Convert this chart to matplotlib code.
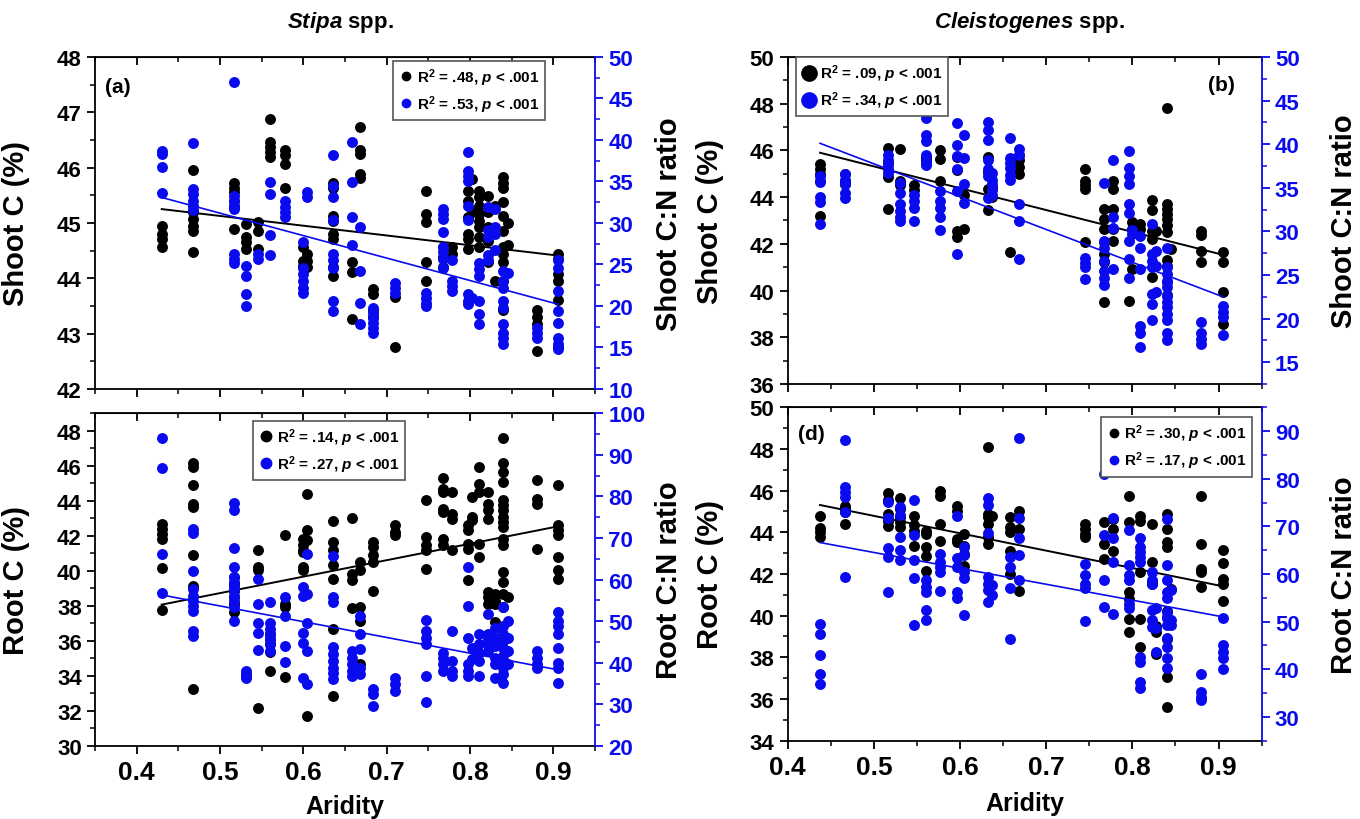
import matplotlib
matplotlib.use('Agg')
import matplotlib.pyplot as plt
from matplotlib.lines import Line2D
from matplotlib.ticker import MultipleLocator

plt.rcParams['font.family'] = ['Liberation Sans', 'DejaVu Sans']
plt.rcParams['font.weight'] = 'bold'
plt.rcParams['axes.labelweight'] = 'bold'
plt.rcParams['mathtext.fontset'] = 'custom'
plt.rcParams['mathtext.it'] = 'Liberation Sans:italic:bold'
plt.rcParams['mathtext.rm'] = 'Liberation Sans:bold'

BLUE = '#0a0aee'

# ---------------- Stipa spp. ----------------
stipa_sites = [0.43, 0.467, 0.517, 0.531, 0.546, 0.56, 0.578, 0.60, 0.604, 0.635,
               0.658, 0.668, 0.684, 0.71, 0.747, 0.768, 0.778, 0.797, 0.802, 0.811,
               0.822, 0.83, 0.84, 0.845, 0.88, 0.906]

stipa_shoot_c = [
    [44.95, 44.8, 44.71, 44.57],
    [45.95, 45.19, 45.07, 44.95, 44.86, 44.47],
    [45.73, 45.64, 45.55, 45.4, 45.28, 44.89],
    [44.98, 44.74, 44.65, 44.53],
    [45.01, 44.86, 44.53],
    [46.88, 46.46, 46.37, 46.28, 46.19],
    [46.31, 46.22, 46.07, 45.64],
    [44.56, 44.32, 44.23],
    [44.44, 44.32, 44.2],
    [45.73, 45.64, 45.13, 45.04, 44.8, 44.71, 44.2, 44.05],
    [44.29, 44.11, 43.27],
    [46.73, 46.31, 46.25, 45.88, 45.82],
    [43.81, 43.72, 43.42, 43.3],
    [43.66, 42.75],
    [45.58, 45.16, 45.01, 44.29, 43.96],
    [44.56, 44.38, 44.2],
    [44.56, 44.44],
    [45.58, 45.4, 45.1, 44.8, 44.71, 44.53],
    [45.8, 45.2],
    [45.58, 45.46, 45.31, 45.16, 45.04, 44.92, 44.74, 44.56],
    [45.49, 45.19, 44.92, 44.68, 44.29],
    [45.3, 43.96],
    [45.83, 45.73, 45.64, 45.37, 45.13, 44.86, 44.56, 44.44, 44.29, 43.96, 43.42],
    [45.0, 44.6],
    [43.42, 43.3, 43.17, 42.69],
    [44.44, 44.35, 44.08, 43.96, 43.6, 42.75],
]

stipa_shoot_cn = [
    [38.7, 38.3, 36.7, 33.6],
    [39.6, 34.1, 33.5, 32.7, 32.1, 31.5],
    [47.0, 33.3, 32.7, 32.1, 31.7, 26.3, 25.7, 25.2],
    [24.8, 23.6, 21.4, 20.0],
    [26.3, 25.7],
    [34.9, 33.5, 28.5, 26.1],
    [32.7, 31.9, 31.3, 30.7],
    [27.7, 24.6, 23.8, 23.0, 22.2, 21.6],
    [33.7, 33.1],
    [38.2, 34.5, 33.1, 30.3, 26.3, 25.5, 24.6, 20.6, 19.4],
    [39.7, 34.9, 30.7, 27.3],
    [29.5, 24.2, 20.4, 17.8],
    [19.8, 19.2, 18.6, 18.0, 17.4, 16.8],
    [22.8, 22.2, 21.6],
    [21.6, 21.0, 20.4, 20.0],
    [31.7, 31.1, 30.5, 28.9, 27.1, 26.5, 25.7, 24.6],
    [25.5, 23.0, 22.4, 21.8],
    [38.6, 36.3, 35.7, 35.1, 32.1, 30.3, 21.4, 20.6, 20.2],
    [21.0],
    [25.2, 24.4, 23.6, 20.6, 19.0, 17.8],
    [31.9, 29.1, 28.3, 26.1, 25.5],
    [31.7, 29.5, 28.7, 26.7],
    [24.2, 23.0, 22.2, 20.6, 19.8, 17.8, 16.8, 16.2, 15.4],
    [24.0],
    [17.4, 16.8, 16.2],
    [25.5, 24.6, 21.8, 19.4, 18.0, 16.2, 15.4, 14.8],
]

stipa_root_c = [
    [42.69, 42.4, 42.12, 41.83, 40.17, 37.77],
    [46.13, 45.93, 44.89, 43.84, 43.65, 40.88, 39.16, 33.24],
    [39.64, 39.26, 38.87, 38.49, 38.11, 37.63],
    [34.1],
    [41.16, 40.21, 40.02, 32.16],
    [36.39, 36.1, 35.82, 35.34, 34.29],
    [42.02, 38.11, 37.92, 33.95],
    [41.83, 41.45, 41.16, 41.07, 40.21, 40.02],
    [44.41, 42.31, 41.74, 31.72],
    [42.84, 41.64, 41.16, 40.31, 39.54, 36.68, 32.86],
    [43.02, 39.83, 39.45, 37.88],
    [40.5, 40.02, 37.92, 37.16, 34.68],
    [41.64, 41.35, 40.88, 40.5, 38.87],
    [42.6, 42.21, 42.02],
    [44.03, 41.93, 41.45, 41.16, 40.11],
    [45.27, 44.64, 44.5, 43.55, 43.36, 41.83, 41.45],
    [44.5, 43.26, 42.98, 41.16],
    [42.6, 42.31, 41.55, 41.26, 39.45],
    [44.22, 43.07, 42.88],
    [45.9, 44.98, 44.5, 41.55, 40.78],
    [44.5, 43.84, 43.45, 42.98, 38.78, 38.49, 38.11],
    [38.68, 38.3, 38.11, 37.06],
    [47.6, 46.13, 45.65, 45.08, 44.03, 43.74, 43.45, 43.07, 42.79, 42.5,
     41.83, 41.45, 39.92, 39.35, 38.68, 37.92],
    [38.49],
    [45.21, 44.07, 43.84, 41.26],
    [44.89, 42.6, 42.31, 42.02, 40.78, 40.02, 39.54],
]

stipa_root_cn = [
    [93.9, 86.7, 66.1, 56.7],
    [72.1, 71.3, 62.1, 57.7, 56.1, 54.9, 53.7, 52.5, 47.6, 46.4],
    [78.3, 76.6, 67.7, 63.0, 60.5, 59.3, 58.5, 57.7, 56.1, 54.9, 53.3, 50.0],
    [38.0, 36.8, 36.4],
    [60.1, 54.1, 49.6, 47.2, 43.1],
    [54.7, 49.6, 48.0, 46.8, 45.6, 44.4, 42.8],
    [55.8, 51.3, 44.0, 40.3],
    [58.2, 56.1, 47.2, 44.8, 36.4],
    [66.2, 56.5, 49.6, 42.8, 34.8],
    [65.7, 55.7, 54.5, 43.8, 42.0, 40.4, 38.8, 37.6, 36.0],
    [42.8, 41.2, 39.6, 38.0, 36.8],
    [51.3, 46.8, 43.2, 38.8, 37.2],
    [33.6, 32.4, 29.6],
    [36.4, 34.8, 33.2],
    [50.4, 47.6, 46.0, 44.4, 36.8, 30.6],
    [42.4, 41.2, 39.6, 38.0],
    [47.6, 40.4, 38.0, 36.8],
    [63.0, 53.7, 46.0, 39.6, 38.0, 36.8],
    [43.6, 40.8],
    [46.8, 44.4, 42.4, 40.4, 36.8],
    [51.7, 46.8, 45.6, 44.4, 42.8],
    [48.4, 46.0, 44.0, 41.2, 39.6, 36.4],
    [53.3, 48.8, 46.8, 45.2, 43.6, 41.6, 40.0, 38.8, 37.2, 35.2],
    [50.0, 46.0, 42.8, 39.6],
    [42.8, 41.2, 39.6, 38.8],
    [52.1, 50.0, 48.8, 46.8, 43.6, 40.0, 38.8, 35.2],
]

# ---------------- Cleistogenes spp. ----------------
cleist_sites = [0.4375, 0.4666, 0.516, 0.53, 0.546, 0.56, 0.577, 0.597, 0.605, 0.632,
                0.637, 0.658, 0.668, 0.745, 0.767, 0.777, 0.796, 0.80, 0.809, 0.823,
                0.827, 0.84, 0.845, 0.88, 0.905]

cleist_shoot_c = [
    [45.43, 45.21, 45.0, 44.71, 43.21],
    [45.0, 44.71, 44.57],
    [46.1, 45.5, 44.86, 43.5],
    [46.04, 44.71, 44.5],
    [44.5, 44.29],
    [45.71, 45.57, 45.43],
    [46.0, 45.64, 44.71],
    [45.71, 45.14, 42.57, 42.29],
    [44.07, 42.64],
    [45.71, 45.07, 44.36, 43.43],
    [44.43, 44.0],
    [41.64],
    [45.79, 45.57, 45.29, 45.0],
    [45.21, 44.71, 44.5, 44.36, 42.07],
    [43.5, 43.07, 42.64, 42.07, 41.57, 41.21, 39.5],
    [44.71, 44.36, 43.5, 42.64, 42.14],
    [39.57],
    [42.93, 42.64, 40.93],
    [42.86, 42.64],
    [43.86, 43.43, 42.57, 42.21, 40.57],
    [42.57],
    [47.81, 43.71, 43.5, 43.29, 43.07, 42.79, 42.5, 41.29, 41.07, 40.36, 39.79],
    [41.8],
    [42.57, 42.36, 41.71, 41.21],
    [41.64, 41.21, 39.93, 38.57],
]

cleist_shoot_cn = [
    [36.3, 35.7, 34.0, 33.4, 30.8],
    [36.6, 35.9, 35.4, 34.4, 33.8],
    [38.8, 38.2, 37.6, 37.1, 36.7],
    [35.6, 34.4, 33.1, 32.3, 31.7, 31.2],
    [34.2, 33.5, 32.7, 31.2],
    [43.0, 41.0, 40.4, 38.8, 38.0, 37.6],
    [34.6, 33.5, 32.7, 31.6, 30.2],
    [42.4, 39.9, 38.6, 37.1, 34.6, 27.4],
    [41.1, 38.4, 35.4, 33.3],
    [42.6, 41.6, 40.5, 38.2, 37.2, 36.3, 33.8],
    [36.7, 35.9, 35.4, 34.8, 34.2],
    [40.7, 38.4, 37.8, 37.3, 36.5, 35.9],
    [39.5, 38.8, 33.1, 31.2, 26.8],
    [27.0, 26.4, 25.9, 24.5],
    [35.6, 28.9, 28.1, 26.6, 25.5, 24.7, 23.8],
    [38.2, 31.7, 30.4, 25.7],
    [39.2, 37.3, 36.3, 35.4, 33.1, 32.1, 28.9, 26.8, 24.7],
    [30.2, 29.7],
    [29.5, 28.1, 25.7, 19.2, 18.3, 16.7],
    [30.8, 27.4, 26.6, 25.9, 22.8, 21.7, 19.8],
    [27.8, 26.0, 23.0],
    [28.1, 25.9, 25.1, 24.3, 23.6, 22.6, 21.9, 21.3, 20.5, 19.8, 18.3, 17.5],
    [],
    [19.6, 18.3, 17.7, 17.1],
    [21.5, 20.7, 20.2, 18.1],
]

cleist_root_c = [
    [44.77, 44.19, 44.0, 43.76],
    [45.25, 45.12, 44.96, 44.4],
    [45.89, 45.57, 44.88, 44.56, 44.32],
    [45.65, 45.12, 44.72, 44.48, 44.24],
    [44.8, 44.35, 44.08, 43.36],
    [44.08, 43.92, 43.28, 42.88, 42.16],
    [46.0, 45.76, 44.4, 43.6],
    [45.25, 45.04, 43.68, 43.52],
    [43.92, 43.36, 42.96, 42.4],
    [48.08, 44.88, 44.72, 44.4, 43.76, 43.44],
    [44.8],
    [44.72, 44.24, 44.0, 43.12, 42.0],
    [45.04, 44.16, 41.2],
    [44.4, 44.16, 43.92, 43.76],
    [44.51, 43.44, 42.72],
    [44.64, 44.16, 43.12],
    [45.73, 44.48, 41.12, 40.8, 39.84, 39.2],
    [],
    [44.8, 44.56, 42.11, 39.84, 38.48],
    [44.4, 42.56, 41.6, 41.52],
    [39.52, 39.2, 38.16],
    [44.88, 44.16, 43.52, 43.28, 40.24, 39.92, 38.88, 37.04, 35.6],
    [41.28],
    [45.73, 43.44, 42.24, 42.08, 41.36],
    [43.17, 42.53, 41.76, 41.52, 40.72],
]

cleist_root_cn = [
    [49.4, 47.3, 43.0, 39.1, 37.0],
    [88.1, 78.3, 77.3, 76.2, 73.1, 59.4],
    [75.2, 71.7, 65.4, 63.6, 56.3],
    [74.1, 72.4, 67.8, 65.0, 62.9],
    [75.5, 68.2, 62.9, 59.1, 49.3],
    [58.7, 57.3, 56.3, 52.4, 50.3],
    [64.3, 62.6, 61.5, 60.5, 56.4],
    [72.2, 63.3, 61.5, 56.3, 55.0],
    [65.7, 64.0, 60.5, 59.1, 51.4],
    [75.9, 74.5, 68.5, 59.4, 58.0, 56.6, 54.2],
    [57.7, 55.6],
    [63.6, 61.5, 57.0, 46.3],
    [88.5, 71.7, 67.5, 64.0, 58.7],
    [62.2, 59.8, 58.0, 57.0, 50.1],
    [80.9, 68.2, 58.7, 53.1],
    [71.7, 67.5, 62.6, 51.5],
    [69.2, 61.9, 59.8, 58.7, 53.8, 52.8],
    [],
    [67.5, 65.7, 64.7, 63.6, 62.6, 42.6, 41.6, 37.4, 36.0],
    [60.5, 58.7, 58.0, 52.4, 50.3, 48.9],
    [52.8, 48.6, 43.7],
    [71.5, 61.9, 58.7, 56.3, 54.9, 52.1, 50.7, 49.3, 46.5, 44.7, 42.3, 40.2],
    [56.6, 50.3, 49.3],
    [39.1, 35.3, 34.2, 33.5],
    [50.8, 45.1, 43.7, 42.3, 40.0],
]

# fitted regression lines, end points
stipa_fit_x = [0.43, 0.906]
cleist_fit_x = [0.4375, 0.905]
fit_a_c, fit_a_cn = [45.25, 44.41], [33.07, 20.2]
fit_b_c, fit_b_cn = [45.9, 41.53], [40.1, 22.5]
fit_c_c, fit_c_cn = [38.07, 42.54], [56.3, 38.3]
fit_d_c, fit_d_cn = [45.31, 41.41], [66.6, 51.0]

legend_a = [r'R$^{2}$ = .48, $p$ < .001', r'R$^{2}$ = .53, $p$ < .001']
legend_b = [r'R$^{2}$ = .09, $p$ < .001', r'R$^{2}$ = .34, $p$ < .001']
legend_c = [r'R$^{2}$ = .14, $p$ < .001', r'R$^{2}$ = .27, $p$ < .001']
legend_d = [r'R$^{2}$ = .30, $p$ < .001', r'R$^{2}$ = .17, $p$ < .001']


def flat(sites, groups):
    xs = [s for s, g in zip(sites, groups) for _ in g]
    ys = [v for g in groups for v in g]
    return xs, ys


fig = plt.figure(figsize=(13.6, 8.2), dpi=100)


def panel(rect, sites, cvals, cnvals, fit_x, fit_c, fit_cn, xlim, clim, cstep, cnlim, cnstep,
          clabel, cnlabel, leg_text, leg_anchor, leg_ms, tag=None, tag_pos=None, tag_ha='left',
          xlabels=True, lab_left=-0.13, lab_right=1.12):
    ax = fig.add_axes(rect)
    ax2 = ax.twinx()
    x, y = flat(sites, cvals)
    ax.scatter(x, y, s=62, color='black', linewidths=0, zorder=3)
    ax.plot(fit_x, fit_c, color='black', lw=1.4, zorder=4)
    x, y = flat(sites, cnvals)
    ax2.scatter(x, y, s=62, color=BLUE, linewidths=0, zorder=3)
    ax2.plot(fit_x, fit_cn, color=BLUE, lw=1.2, zorder=4)

    ax.set_xlim(*xlim)
    ax.set_ylim(*clim)
    ax2.set_ylim(*cnlim)
    ax.xaxis.set_major_locator(MultipleLocator(0.1))
    ax.xaxis.set_minor_locator(MultipleLocator(0.05))
    ax.yaxis.set_major_locator(MultipleLocator(cstep))
    ax.yaxis.set_minor_locator(MultipleLocator(cstep / 2))
    ax2.yaxis.set_major_locator(MultipleLocator(cnstep))
    ax2.yaxis.set_minor_locator(MultipleLocator(cnstep / 2))

    ax.tick_params(axis='both', which='major', direction='out', length=6, width=1.3, labelsize=16)
    ax.tick_params(axis='both', which='minor', direction='out', length=3.5, width=1.1)
    ax.tick_params(axis='x', labelsize=19, pad=4, labelbottom=xlabels)
    ax2.tick_params(axis='y', which='major', direction='out', length=6, width=1.3,
                    colors=BLUE, labelsize=16)
    ax2.tick_params(axis='y', which='minor', direction='out', length=3.5, width=1.1, colors=BLUE)

    top = ax.secondary_xaxis('top')
    top.xaxis.set_major_locator(MultipleLocator(0.1))
    top.xaxis.set_minor_locator(MultipleLocator(0.05))
    top.tick_params(which='major', direction='in', length=6, width=1.3, labeltop=False)
    top.tick_params(which='minor', direction='in', length=3.5, width=1.1)

    for s in ax.spines.values():
        s.set_linewidth(1.3)
    for k in ['left', 'top', 'bottom']:
        ax2.spines[k].set_visible(False)
    ax2.spines['right'].set_color(BLUE)
    ax2.spines['right'].set_linewidth(1.3)
    ax.spines['right'].set_visible(False)

    ax.set_ylabel(clabel, fontsize=21)
    ax.yaxis.set_label_coords(lab_left, 0.5)
    ax2.set_ylabel(cnlabel, fontsize=21, color='black')
    ax2.yaxis.set_label_coords(lab_right, 0.5)

    handles = [Line2D([], [], marker='o', ls='', color='black', markersize=leg_ms),
               Line2D([], [], marker='o', ls='', color=BLUE, markersize=leg_ms)]
    leg = ax2.legend(handles, leg_text, loc='upper right', bbox_to_anchor=leg_anchor,
                     fancybox=False, edgecolor='#555555', framealpha=1,
                     prop={'family': 'Liberation Sans', 'weight': 'bold', 'size': 11},
                     handletextpad=0.2, borderpad=0.35, labelspacing=0.35,
                     handlelength=1.0, borderaxespad=0)
    leg.get_frame().set_linewidth(1.2)

    if tag:
        ax2.text(tag_pos[0], tag_pos[1], tag, transform=ax.transAxes, fontsize=15,
                 fontweight='bold', ha=tag_ha, va='center')
    return ax, ax2


ax_a, _ = panel([0.0699, 0.5244, 0.3676, 0.405], stipa_sites, stipa_shoot_c, stipa_shoot_cn,
                stipa_fit_x, fit_a_c, fit_a_cn, (0.35, 0.95), (42, 48), 1, (10, 50), 5,
                'Shoot C (%)', 'Shoot C:N ratio', legend_a, (0.90, 0.988), 6,
                tag='(a)', tag_pos=(0.02, 0.91), xlabels=False)

ax_c, _ = panel([0.0699, 0.0890, 0.3676, 0.406], stipa_sites, stipa_root_c, stipa_root_cn,
                stipa_fit_x, fit_c_c, fit_c_cn, (0.35, 0.95), (30, 49), 2, (20, 100), 10,
                'Root C (%)', 'Root C:N ratio', legend_c, (0.62, 0.977), 7.5)
ax_c.set_xlabel('Aridity', fontsize=18)
ax_c.xaxis.set_label_coords(0.5, -0.145)

ax_b, _ = panel([0.5792, 0.5305, 0.3485, 0.3988], cleist_sites, cleist_shoot_c, cleist_shoot_cn,
                cleist_fit_x, fit_b_c, fit_b_cn, (0.4, 0.95), (36, 50), 2, (12.5, 50), 5,
                'Shoot C (%)', 'Shoot C:N ratio', legend_b, (0.338, 1.0), 11,
                tag='(b)', tag_pos=(0.944, 0.917), tag_ha='right', xlabels=False,
                lab_left=-0.135, lab_right=1.145)

ax_d, _ = panel([0.5792, 0.0955, 0.3485, 0.4066], cleist_sites, cleist_root_c, cleist_root_cn,
                cleist_fit_x, fit_d_c, fit_d_cn, (0.4, 0.95), (34, 50), 2, (25, 95), 10,
                'Root C (%)', 'Root C:N ratio', legend_d, (0.98, 0.97), 6,
                tag='(d)', tag_pos=(0.022, 0.92), lab_left=-0.135, lab_right=1.145)
ax_d.set_xlabel('Aridity', fontsize=18)
ax_d.xaxis.set_label_coords(0.5, -0.15)

fig.text(0.25, 0.972, r'$Stipa$ spp.', fontsize=16, fontweight='bold', ha='center', va='center')
fig.text(0.757, 0.972, r'$Cleistogenes$ spp.', fontsize=16, fontweight='bold',
         ha='center', va='center')

fig.savefig('out.png', dpi=100)
